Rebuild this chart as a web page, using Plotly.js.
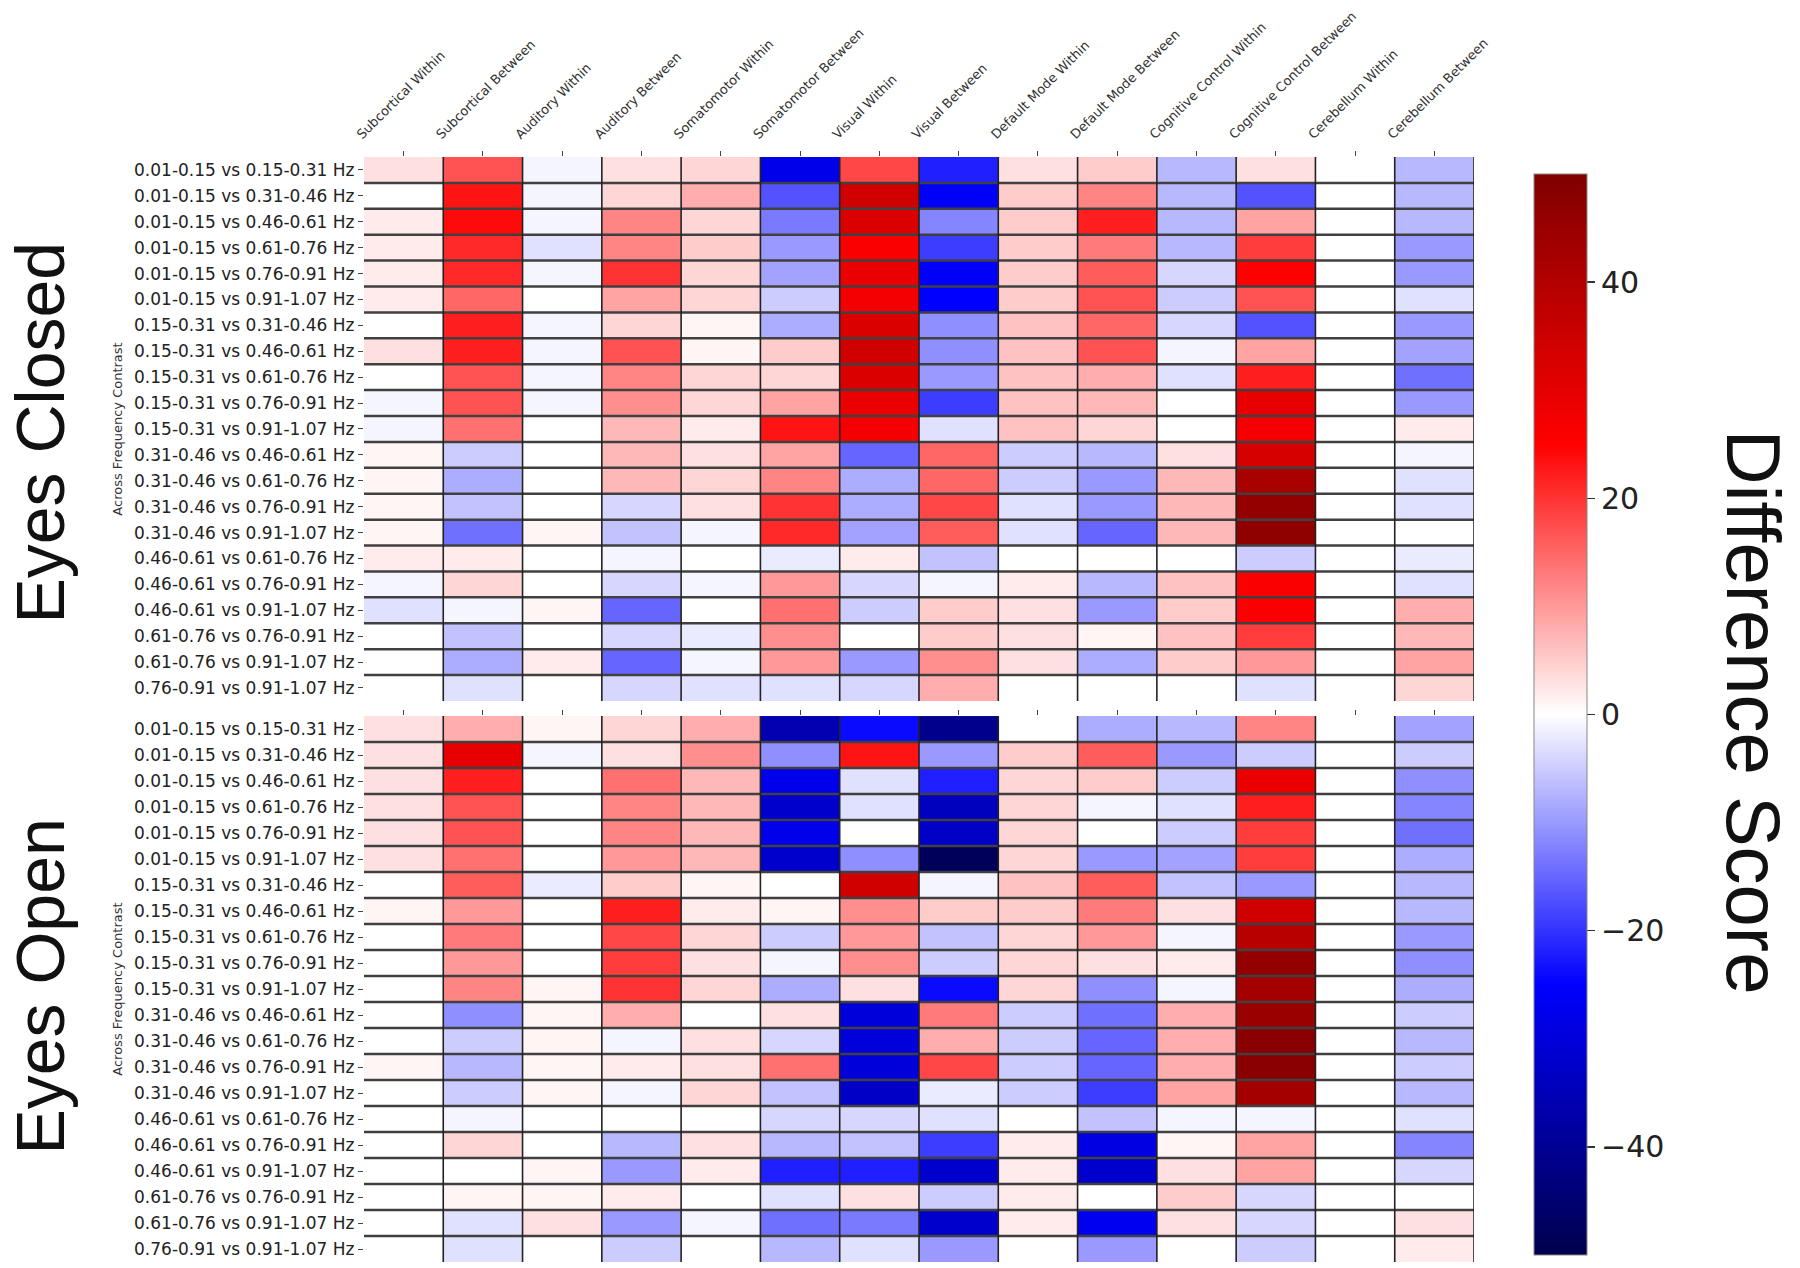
<!DOCTYPE html>
<html>
<head>
<meta charset="utf-8">
<script src="https://cdn.plot.ly/plotly-3.0.1.min.js"></script>
<style>html,body{margin:0;padding:0;background:#fff;}#chart{width:1800px;height:1268px;}</style>
</head>
<body>
<div id="chart"></div>
<script>
const columns = ["Subcortical Within","Subcortical Between","Auditory Within","Auditory Between",
  "Somatomotor Within","Somatomotor Between","Visual Within","Visual Between",
  "Default Mode Within","Default Mode Between","Cognitive Control Within","Cognitive Control Between",
  "Cerebellum Within","Cerebellum Between"];

const contrasts = ["0.01-0.15 vs 0.15-0.31 Hz","0.01-0.15 vs 0.31-0.46 Hz","0.01-0.15 vs 0.46-0.61 Hz",
  "0.01-0.15 vs 0.61-0.76 Hz","0.01-0.15 vs 0.76-0.91 Hz","0.01-0.15 vs 0.91-1.07 Hz",
  "0.15-0.31 vs 0.31-0.46 Hz","0.15-0.31 vs 0.46-0.61 Hz","0.15-0.31 vs 0.61-0.76 Hz",
  "0.15-0.31 vs 0.76-0.91 Hz","0.15-0.31 vs 0.91-1.07 Hz","0.31-0.46 vs 0.46-0.61 Hz",
  "0.31-0.46 vs 0.61-0.76 Hz","0.31-0.46 vs 0.76-0.91 Hz","0.31-0.46 vs 0.91-1.07 Hz",
  "0.46-0.61 vs 0.61-0.76 Hz","0.46-0.61 vs 0.76-0.91 Hz","0.46-0.61 vs 0.91-1.07 Hz",
  "0.61-0.76 vs 0.76-0.91 Hz","0.61-0.76 vs 0.91-1.07 Hz","0.76-0.91 vs 0.91-1.07 Hz"];

const eyesClosed = [
  [3, 17, -1, 3, 4, -28, 18, -22, 3, 5, -7, 3, 0, -7],
  [0, 23, -1, 4, 8, -17, 34, -26, 5, 12, -7, -17, 0, -7],
  [2, 24, -1, 12, 4, -13, 32, -12, 5, 22, -7, 9, 0, -7],
  [2, 21, -3, 12, 5, -10, 26, -19, 5, 13, -7, 19, 0, -10],
  [2, 21, -1, 20, 4, -9, 29, -26, 5, 16, -4, 25, 0, -10],
  [2, 15, 0, 9, 4, -5, 27, -25, 5, 17, -5, 17, 0, -3],
  [0, 22, -1, 4, 1, -8, 32, -11, 6, 15, -4, -17, 0, -10],
  [3, 22, -1, 17, 1, 5, 34, -11, 6, 17, -1, 9, 0, -9],
  [0, 17, -1, 12, 4, 4, 32, -10, 6, 8, -3, 22, 0, -14],
  [-1, 17, -1, 11, 4, 9, 29, -19, 6, 7, 0, 30, 0, -10],
  [-1, 14, 0, 7, 2, 23, 27, -3, 6, 4, 0, 27, 0, 2],
  [1, -5, 0, 7, 3, 9, -15, 15, -5, -7, 3, 33, 0, -1],
  [1, -8, 0, 7, 4, 12, -8, 15, -5, -10, 7, 42, 0, -3],
  [1, -6, 0, -4, 3, 20, -8, 18, -3, -10, 7, 46, 0, -3],
  [1, -14, 1, -6, -1, 21, -9, 16, -3, -15, 7, 47, 0, 0],
  [2, 2, 0, -1, 0, -2, 2, -6, 0, 0, 0, -5, 0, -2],
  [-1, 4, 0, -4, -1, 10, -4, -1, 2, -7, 6, 26, 0, -3],
  [-3, -1, 1, -15, 0, 14, -5, 5, 3, -10, 5, 26, 0, 8],
  [0, -6, 0, -4, -2, 11, 0, 5, 3, 1, 6, 19, 0, 7],
  [0, -8, 2, -15, -1, 10, -10, 11, 3, -8, 5, 10, 0, 9],
  [0, -3, 0, -4, -3, -3, -4, 8, 0, 0, 0, -3, 0, 4]
];

const eyesOpen = [
  [3, 8, 1, 4, 8, -36, -24, -41, 0, -8, -7, 12, 0, -9],
  [3, 30, -1, 3, 11, -11, 23, -10, 5, 16, -10, -5, 0, -5],
  [3, 22, 0, 14, 7, -28, -3, -22, 4, 5, -5, 29, 0, -11],
  [3, 17, 0, 12, 7, -32, -3, -34, 4, -1, -3, 22, 0, -12],
  [3, 17, 0, 12, 7, -28, 0, -33, 4, 0, -5, 19, 0, -14],
  [3, 14, 0, 10, 7, -32, -11, -48, 4, -10, -9, 19, 0, -8],
  [0, 16, -2, 5, 1, 0, 34, -1, 6, 16, -6, -10, 0, -7],
  [1, 10, 0, 22, 2, 1, 11, 5, 5, 13, 3, 34, 0, -7],
  [0, 13, 0, 18, 4, -5, 10, -6, 4, 10, -1, 39, 0, -10],
  [0, 10, 0, 19, 3, -1, 11, -5, 4, 3, 2, 46, 0, -11],
  [0, 12, 1, 20, 4, -8, 3, -24, 4, -11, -1, 43, 0, -8],
  [0, -11, 1, 8, 0, 3, -30, 13, -5, -14, 8, 45, 0, -5],
  [0, -5, 1, -1, 3, -4, -30, 8, -5, -15, 8, 48, 0, -7],
  [1, -7, 1, 2, 3, 14, -30, 18, -5, -15, 8, 48, 0, -5],
  [0, -5, 1, -1, 4, -6, -33, -2, -5, -19, 9, 43, 0, -7],
  [0, -1, 0, 0, 0, -4, -4, -3, 0, -6, -1, -1, 0, -3],
  [0, 4, 0, -7, 3, -7, -6, -19, 2, -29, 1, 9, 0, -12],
  [0, 0, 1, -10, 2, -22, -22, -32, 2, -32, 3, 9, 0, -4],
  [0, 1, 1, 2, 0, -3, 3, -5, 2, 0, 5, -4, 0, 0],
  [0, -3, 3, -10, -1, -14, -13, -32, 2, -27, 3, -4, 0, 3],
  [0, -3, 0, -5, 0, -7, -3, -10, 0, -10, 0, -5, 0, 2]
];

const panelNames = ["Eyes Closed", "Eyes Open"];
const colorTicks = [-40, -20, 0, 20, 40];
const scoreRange = [-50, 50];

// matplotlib "seismic"
const seismic = [[0, 'rgb(0,0,77)'], [0.25, 'rgb(0,0,255)'], [0.5, 'rgb(255,255,255)'],
                 [0.75, 'rgb(255,0,0)'], [1, 'rgb(128,0,0)']];

const labelFont = 'DejaVu Sans, Arial, sans-serif';
const bigFont = 'Liberation Sans Narrow, Liberation Sans, Arial, sans-serif';

const traces = [
  {type: 'heatmap', x: columns, y: contrasts, z: eyesClosed, coloraxis: 'coloraxis', xaxis: 'x', yaxis: 'y',
   hovertemplate: '%{y}<br>%{x}: %{z}<extra></extra>'},
  {type: 'heatmap', x: columns, y: contrasts, z: eyesOpen, coloraxis: 'coloraxis', xaxis: 'x2', yaxis: 'y2',
   hovertemplate: '%{y}<br>%{x}: %{z}<extra></extra>'}
];

const nC = columns.length, nR = contrasts.length;
const shapes = [];
['y', 'y2'].forEach((ya, p) => {
  const xa = p === 0 ? 'x' : 'x2';
  for (let r = 1; r < nR; r++) {
    shapes.push({type: 'line', xref: xa, yref: ya, x0: -0.5, x1: nC - 0.5, y0: r - 0.5, y1: r - 0.5,
                 line: {color: '#404040', width: 2.5}});
  }
  for (let c = 1; c <= nC; c++) {
    shapes.push({type: 'line', xref: xa, yref: ya, x0: c - 0.5, x1: c - 0.5, y0: -0.5, y1: nR - 0.5,
                 line: {color: '#222', width: 1.6}});
  }
});

const xCommon = {
  domain: [0.2022, 0.8189], side: 'top', range: [-0.5, nC - 0.5],
  ticks: 'outside', ticklen: 5, tickcolor: '#444', tickwidth: 1,
  showgrid: false, zeroline: false, showline: false, fixedrange: true
};
const yCommon = {
  range: [nR - 0.5, -0.5], ticks: 'outside', ticklen: 5, tickcolor: '#444', tickwidth: 1,
  showgrid: false, zeroline: false, showline: false,
  tickfont: {family: labelFont, size: 17, color: '#222'},
  title: {text: 'Across Frequency Contrast', font: {family: labelFont, size: 13, color: '#333'}, standoff: 8},
  automargin: false
};

const layout = {
  width: 1800, height: 1268,
  margin: {l: 0, r: 0, t: 0, b: 0},
  paper_bgcolor: '#fff', plot_bgcolor: '#fff',
  showlegend: false,
  xaxis: Object.assign({}, xCommon, {anchor: 'y', tickangle: -45, ticklabelshift: -46, ticklabelstandoff: 4,
                 tickfont: {family: labelFont, size: 13, color: '#333'}}),
  xaxis2: Object.assign({}, xCommon, {anchor: 'y2', showticklabels: false}),
  yaxis: Object.assign({}, yCommon, {domain: [0.4472, 0.8762], anchor: 'x'}),
  yaxis2: Object.assign({}, yCommon, {domain: [0.0047, 0.4353], anchor: 'x2'}),
  coloraxis: {
    cmin: scoreRange[0], cmax: scoreRange[1], colorscale: seismic,
    colorbar: {
      x: 0.8522, xanchor: 'left', xpad: 0, ypad: 0, thickness: 53, thicknessmode: 'pixels',
      len: 0.8525, lenmode: 'fraction', y: 0.4365, yanchor: 'middle',
      tickvals: colorTicks, ticks: 'outside', ticklen: 8, tickcolor: '#333', tickwidth: 1.5,
      tickfont: {family: labelFont, size: 30, color: '#222'},
      outlinewidth: 1, outlinecolor: '#888'
    }
  },
  shapes: shapes,
  annotations: [
    {text: panelNames[0], xref: 'paper', yref: 'paper', x: 0.022, y: 0.6585, xanchor: 'center', yanchor: 'middle',
     textangle: -90, showarrow: false, font: {family: bigFont, size: 68, color: '#111'}},
    {text: panelNames[1], xref: 'paper', yref: 'paper', x: 0.022, y: 0.2216, xanchor: 'center', yanchor: 'middle',
     textangle: -90, showarrow: false, font: {family: bigFont, size: 68, color: '#111'}},
    {text: 'Difference Score', xref: 'paper', yref: 'paper', x: 0.974, y: 0.4385, xanchor: 'center', yanchor: 'middle',
     textangle: 90, showarrow: false, font: {family: bigFont, size: 76, color: '#111'}}
  ]
};

Plotly.newPlot('chart', traces, layout, {displayModeBar: false, staticPlot: true});
</script>
</body>
</html>
